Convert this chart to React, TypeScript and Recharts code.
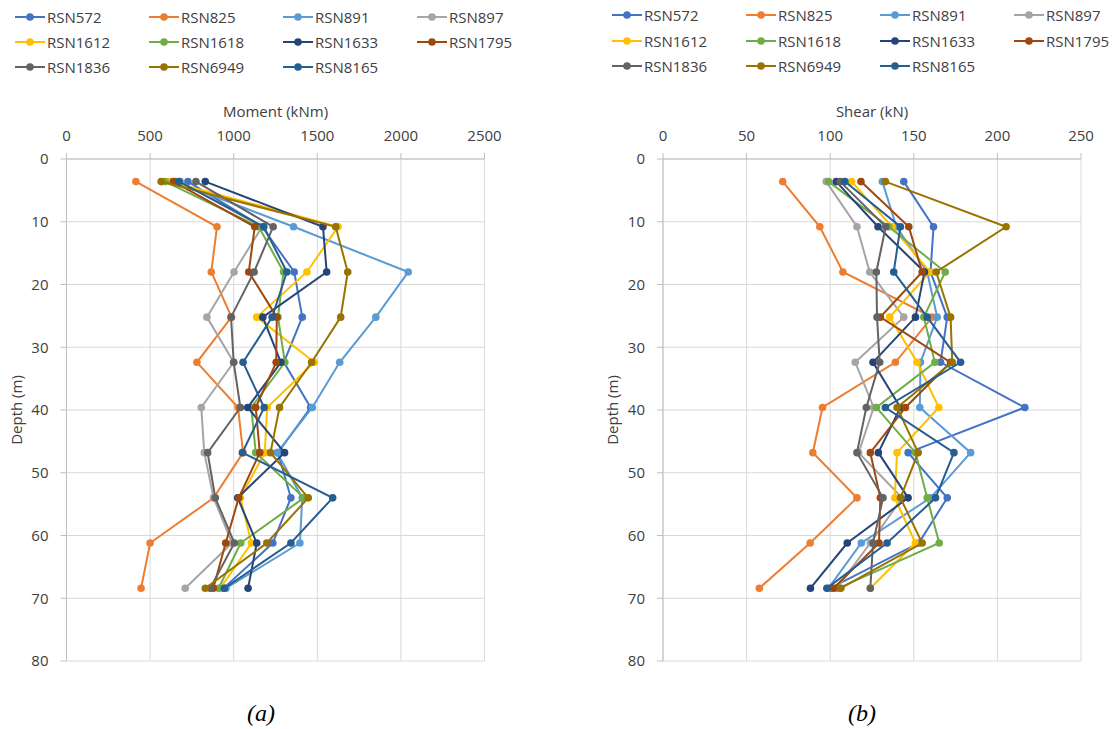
import { ScatterChart, Scatter, XAxis, YAxis, CartesianGrid } from 'recharts';

const depths = [3.6, 10.8, 18.0, 25.2, 32.4, 39.6, 46.8, 54.0, 61.2, 68.4];

const seriesNames = ['RSN572', 'RSN825', 'RSN891', 'RSN897', 'RSN1612', 'RSN1618', 'RSN1633', 'RSN1795', 'RSN1836', 'RSN6949', 'RSN8165'];
const COLORS = ['#4472C4', '#ED7D31', '#5B9BD5', '#A5A5A5', '#FFC000', '#70AD47', '#264478', '#9E480E', '#636363', '#997300', '#255E91'];

// moment (kNm), one value per depth
const momentRSN572  = [726, 1170, 1362, 1410, 1300, 1460, 1265, 1342, 1234, 940];
const momentRSN825  = [415, 900, 866, 987, 780, 1026, 1056, 880, 500, 446];
const momentRSN891  = [654, 1358, 2044, 1850, 1634, 1470, 1260, 1410, 1396, 954];
const momentRSN897  = [680, 1170, 1002, 840, 1000, 806, 824, 880, 990, 710];
const momentRSN1612 = [620, 1624, 1438, 1138, 1482, 1200, 1186, 1040, 1106, 920];
const momentRSN1618 = [590, 1150, 1298, 1265, 1306, 1105, 1132, 1420, 1042, 910];
const momentRSN1633 = [830, 1534, 1556, 1174, 1282, 1084, 1304, 1024, 1138, 1086];
const momentRSN1795 = [640, 1126, 1090, 1258, 1254, 1132, 1156, 1030, 952, 878];
const momentRSN1836 = [774, 1236, 1122, 984, 1000, 1040, 844, 890, 1004, 860];
const momentRSN6949 = [566, 1610, 1682, 1640, 1466, 1274, 1220, 1446, 1198, 830];
const momentRSN8165 = [674, 1180, 1318, 1230, 1056, 1182, 1052, 1592, 1342, 944];

// shear (kN), one value per depth
const shearRSN572  = [144, 161.8, 160, 170, 166, 216.4, 146.6, 170, 153, 100];
const shearRSN825  = [71.6, 93.8, 107.6, 161, 139, 95.4, 89.6, 116, 88, 57.6];
const shearRSN891  = [131.2, 139.6, 158, 164, 154, 153.6, 184, 160, 118.6, 99];
const shearRSN897  = [97.6, 116, 123.6, 144, 115, 126, 117, 143, 124, 104];
const shearRSN1612 = [112.8, 137, 159.6, 135.6, 152, 165, 140, 138.6, 151, 124];
const shearRSN1618 = [99, 135, 168.8, 156, 162.6, 127.6, 151, 158, 165.2, 105];
const shearRSN1633 = [103.6, 128.6, 156.4, 151, 125.6, 142, 128.8, 146.6, 110.2, 88.2];
const shearRSN1795 = [118.4, 147, 155, 130, 172, 145, 124, 130, 129.2, 102];
const shearRSN1836 = [106, 133.2, 127.6, 128, 129.6, 121.6, 116, 131.6, 125.6, 124];
const shearRSN6949 = [133, 205.2, 163.4, 172, 173, 140, 152.6, 142, 155, 106.4];
const shearRSN8165 = [108.8, 142, 138, 158, 178, 133, 174, 163, 134, 98];

const momentSeries = [momentRSN572, momentRSN825, momentRSN891, momentRSN897, momentRSN1612, momentRSN1618, momentRSN1633, momentRSN1795, momentRSN1836, momentRSN6949, momentRSN8165];
const shearSeries = [shearRSN572, shearRSN825, shearRSN891, shearRSN897, shearRSN1612, shearRSN1618, shearRSN1633, shearRSN1795, shearRSN1836, shearRSN6949, shearRSN8165];

const momentTicks = [0, 500, 1000, 1500, 2000, 2500];
const shearTicks = [0, 50, 100, 150, 200, 250];
const depthTicks = [0, 10, 20, 30, 40, 50, 60, 70, 80];

const range = (max: number, step: number) => Array.from({ length: Math.round(max / step) + 1 }, (_, i) => i * step);

const TEXT = '#404040';
const AXIS = '#bfbfbf';

type ProfileProps = {
  series: number[][];
  xTicks: number[];
  xMax: number;
  xStep: number;
  xLabel: string;
  width: number;
  left: number;
};

function Profile({ series, xTicks, xMax, xStep, xLabel, width, left }: ProfileProps) {
  return (
    <ScatterChart width={width} height={680} margin={{ top: 101, left: left - 60, right: width - left - 418, bottom: 19 }}>
      <CartesianGrid stroke="#d9d9d9" />
      <XAxis
        type="number"
        dataKey="x"
        orientation="top"
        domain={[0, xMax]}
        ticks={xTicks}
        interval={0}
        height={58}
        tickSize={6}
        tickMargin={12}
        stroke={AXIS}
        tick={{ fill: TEXT, fontSize: 15 }}
        label={{ value: xLabel, position: 'insideTop', offset: 5, fill: TEXT, fontSize: 15 }}
      />
      <XAxis
        xAxisId="minor"
        type="number"
        orientation="top"
        domain={[0, xMax]}
        ticks={range(xMax, xStep)}
        interval={0}
        mirror
        height={0}
        tickSize={5}
        axisLine={false}
        stroke={AXIS}
        tick={false}
      />
      <YAxis
        type="number"
        dataKey="depth"
        reversed
        domain={[0, 80]}
        ticks={depthTicks}
        interval={0}
        width={60}
        tickSize={6}
        tickMargin={12}
        stroke={AXIS}
        tick={{ fill: TEXT, fontSize: 15 }}
        label={{ value: 'Depth (m)', angle: -90, position: 'insideLeft', offset: 10, fill: TEXT, fontSize: 15, style: { textAnchor: 'middle' } }}
      />
      <YAxis
        yAxisId="minor"
        type="number"
        reversed
        domain={[0, 80]}
        ticks={range(80, 2)}
        interval={0}
        mirror
        width={0}
        tickSize={5}
        axisLine={false}
        stroke={AXIS}
        tick={false}
      />
      {series.map((vals, i) => (
        <Scatter
          key={seriesNames[i]}
          name={seriesNames[i]}
          data={depths.map((d, j) => ({ x: vals[j], depth: d }))}
          fill={COLORS[i]}
          line={{ stroke: COLORS[i], strokeWidth: 2 }}
          lineType="joint"
          shape={(p: any) => <circle cx={p.cx} cy={p.cy} r={3.8} fill={COLORS[i]} />}
          isAnimationActive={false}
        />
      ))}
    </ScatterChart>
  );
}

function LegendBlock({ left, top, rowHeight }: { left: number; top: number; rowHeight: number }) {
  return (
    <div style={{ position: 'absolute', left, top, display: 'grid', gridTemplateColumns: 'repeat(4, 134px)' }}>
      {seriesNames.map((name, i) => (
        <div key={name} style={{ display: 'flex', alignItems: 'center', height: rowHeight }}>
          <svg width={30} height={10} style={{ marginRight: 2 }}>
            <line x1={0} y1={5} x2={30} y2={5} stroke={COLORS[i]} strokeWidth={2} />
            <circle cx={15} cy={5} r={3.8} fill={COLORS[i]} />
          </svg>
          <span style={{ fontSize: 15, color: TEXT }}>{name}</span>
        </div>
      ))}
    </div>
  );
}

const caption: React.CSSProperties = {
  position: 'absolute',
  top: 700,
  width: 60,
  textAlign: 'center',
  fontFamily: '"Liberation Serif", serif',
  fontStyle: 'italic',
  fontSize: 24,
  color: '#000',
};

export default function App() {
  return (
    <div style={{ position: 'absolute', left: 0, top: 0, width: 1115, height: 729, background: '#fff', fontFamily: '"Open Sans", sans-serif' }}>
      <LegendBlock left={15} top={4.5} rowHeight={25} />
      <LegendBlock left={612} top={2.5} rowHeight={25.5} />
      <div style={{ position: 'absolute', left: 0, top: 0 }}>
        <Profile series={momentSeries} xTicks={momentTicks} xMax={2500} xStep={100} xLabel="Moment (kNm)" width={560} left={66.5} />
      </div>
      <div style={{ position: 'absolute', left: 560, top: 0 }}>
        <Profile series={shearSeries} xTicks={shearTicks} xMax={250} xStep={10} xLabel="Shear (kN)" width={555} left={103} />
      </div>
      <div style={{ ...caption, left: 231 }}>(a)</div>
      <div style={{ ...caption, left: 832 }}>(b)</div>
    </div>
  );
}
